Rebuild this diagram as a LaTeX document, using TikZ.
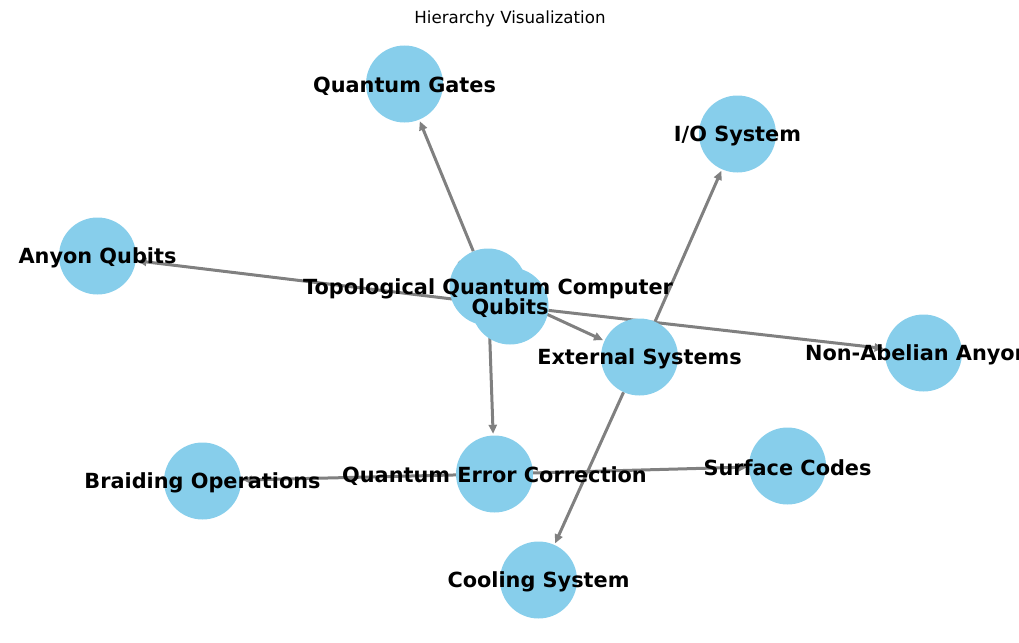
\documentclass[tikz,border=0pt]{standalone}
\usepackage{fontspec}
\setmainfont{DejaVu Sans}
\usetikzlibrary{arrows.meta}
\pgfdeclarelayer{bg}
\pgfsetlayers{bg,main}
\definecolor{sky}{HTML}{87CEEB}
\definecolor{edgegray}{HTML}{808080}
\tikzset{
  blob/.style={circle, fill=sky, draw=none, minimum size=77pt, inner sep=0pt},
  lbl/.style={font=\fontsize{20.83}{24}\selectfont\bfseries, text=black, inner sep=0pt, anchor=center, yshift=-2pt},
  edge/.style={draw=edgegray, line width=3pt, -{Triangle[length=9pt,width=8pt]}, shorten >=1.5pt}
}
\begin{document}
\begin{tikzpicture}[x=1pt,y=-1pt]
\clip (0,0) rectangle (1019,642);
\useasboundingbox (0,0) rectangle (1019,642);
\node[font=\fontsize{16.67}{20}\selectfont] (title) at (510,19) {Hierarchy Visualization};
% circles
\node[blob] (qg)  at (404.5,84) {};
\node[blob] (io)  at (737.5,134) {};
\node[blob] (aq)  at (97.5,256) {};
\node[blob] (tqc) at (488,287) {};
\node[blob] (qb)  at (510,306) {};
\node[blob] (ext) at (639.5,357) {};
\node[blob] (na)  at (923.5,353) {};
\node[blob] (bo)  at (202.5,481) {};
\node[blob] (qec) at (494.5,474) {};
\node[blob] (sc)  at (787.5,466) {};
\node[blob] (cs)  at (538.5,580) {};
% edges
\begin{pgfonlayer}{bg}
\draw[edge] (tqc) -- (qg);
\draw[edge] (tqc) -- (qb);
\draw[edge] (tqc) -- (ext);
\draw[edge] (tqc) -- (qec);
\draw[edge] (qb) -- (aq);
\draw[edge] (qb) -- (na);
\draw[edge] (ext) -- (io);
\draw[edge] (ext) -- (cs);
\draw[edge] (qec) -- (bo);
\draw[edge] (qec) -- (sc);
\end{pgfonlayer}
% labels
\node[lbl] (qg-l)  at (qg.center)  {Quantum Gates};
\node[lbl] (io-l)  at (io.center)  {I/O System};
\node[lbl] (aq-l)  at (aq.center)  {Anyon Qubits};
\node[lbl] (tqc-l) at (tqc.center) {Topological Quantum Computer};
\node[lbl] (qb-l)  at (qb.center)  {Qubits};
\node[lbl] (ext-l) at (ext.center) {External Systems};
\node[lbl] (na-l)  at (na.center)  {Non-Abelian Anyons};
\node[lbl] (bo-l)  at (bo.center)  {Braiding Operations};
\node[lbl] (qec-l) at (qec.center) {Quantum Error Correction};
\node[lbl] (sc-l)  at (sc.center)  {Surface Codes};
\node[lbl] (cs-l)  at (cs.center)  {Cooling System};
\end{tikzpicture}
\end{document}
